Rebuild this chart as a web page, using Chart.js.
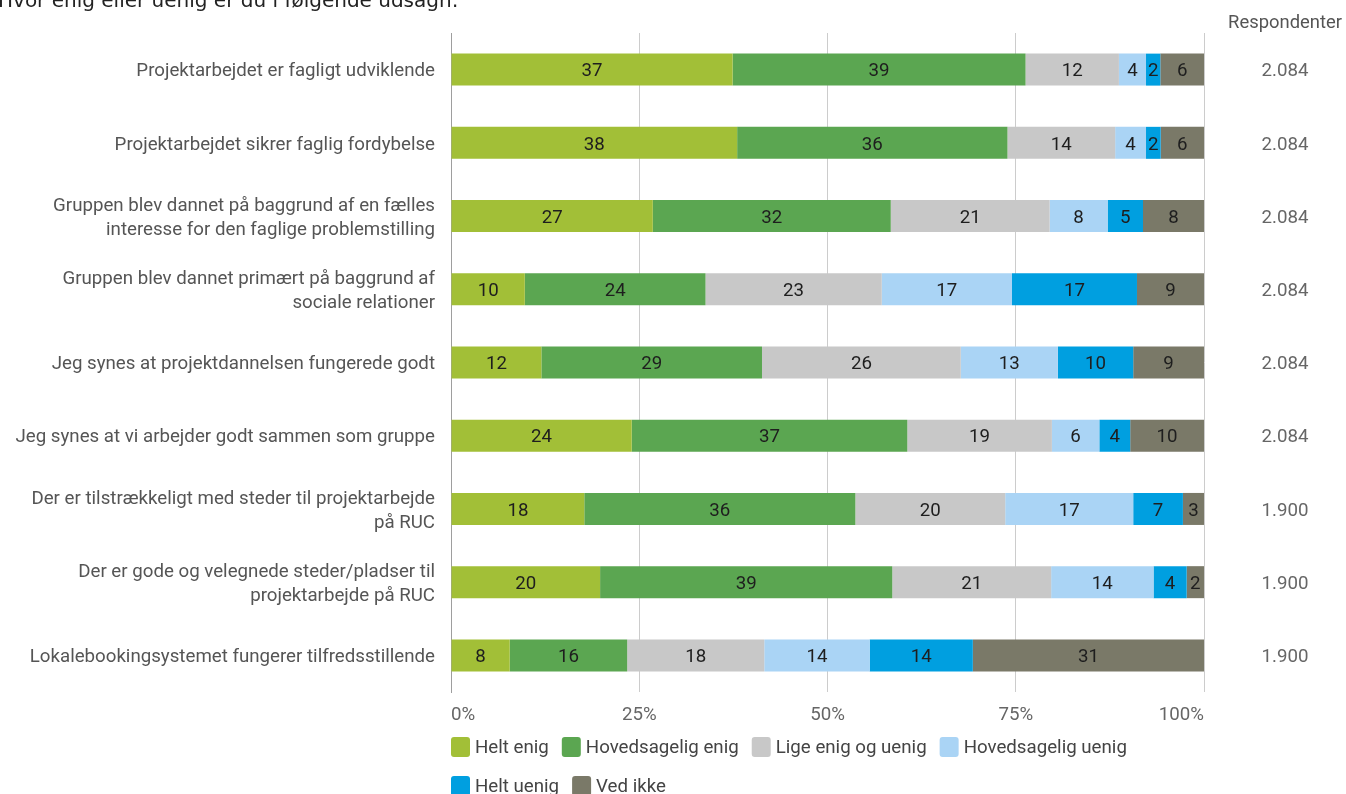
<!DOCTYPE html>
<html>
<head>
<meta charset="utf-8">
<script src="https://cdn.jsdelivr.net/npm/chart.js@4/dist/chart.umd.min.js"></script>
<style>
html,body{margin:0;padding:0;background:#fff;overflow:hidden;}
canvas{display:block;}
</style>
</head>
<body>
<canvas id="c" width="1346" height="794"></canvas>
<script>
const titleText = 'Hvor enig eller uenig er du i følgende udsagn:';
const respHeader = 'Respondenter';
const categories = [
  'Projektarbejdet er fagligt udviklende',
  'Projektarbejdet sikrer faglig fordybelse',
  ['Gruppen blev dannet på baggrund af en fælles', 'interesse for den faglige problemstilling'],
  ['Gruppen blev dannet primært på baggrund af', 'sociale relationer'],
  'Jeg synes at projektdannelsen fungerede godt',
  'Jeg synes at vi arbejder godt sammen som gruppe',
  ['Der er tilstrækkeligt med steder til projektarbejde', 'på RUC'],
  ['Der er gode og velegnede steder/pladser til', 'projektarbejde på RUC'],
  'Lokalebookingsystemet fungerer tilfredsstillende'
];
const seriesNames = ['Helt enig', 'Hovedsagelig enig', 'Lige enig og uenig', 'Hovedsagelig uenig', 'Helt uenig', 'Ved ikke'];
const heltEnig   = [37.4, 38.0, 26.8, 9.8, 12.0, 24.0, 17.7, 19.8, 7.8];
const hovedEnig  = [38.9, 35.9, 31.6, 24.0, 29.3, 36.6, 36.0, 38.8, 15.6];
const ligeEnig   = [12.4, 14.3, 21.1, 23.4, 26.4, 19.2, 19.9, 21.1, 18.2];
const hovedUenig = [3.6, 4.1, 7.7, 17.3, 12.9, 6.3, 17.0, 13.6, 14.0];
const heltUenig  = [1.9, 1.95, 4.7, 16.6, 10.0, 4.1, 6.6, 4.4, 13.7];
const vedIkke    = [5.8, 5.75, 8.1, 8.9, 9.4, 9.8, 2.8, 2.3, 30.7];
const respondents = ['2.084', '2.084', '2.084', '2.084', '2.084', '2.084', '1.900', '1.900', '1.900'];
const xTickValues = [0, 25, 50, 75, 100];

const colors = ['#a2bf37', '#5ba651', '#c8c8c8', '#aad4f5', '#009fe0', '#7a7968'];
const seriesValues = [heltEnig, hovedEnig, ligeEnig, hovedUenig, heltUenig, vedIkke];

const FONT = 'Roboto';
const FS = 18.7;

const extrasPlugin = {
  id: 'extras',
  afterDatasetsDraw(chart) {
    const ctx = chart.ctx;
    ctx.save();
    ctx.font = FS + 'px ' + FONT;
    ctx.fillStyle = '#1e1e1e';
    ctx.textAlign = 'center';
    ctx.textBaseline = 'middle';
    chart.data.datasets.forEach((ds, di) => {
      const meta = chart.getDatasetMeta(di);
      meta.data.forEach((bar, i) => {
        const v = ds.data[i];
        const cx = (bar.x + bar.base) / 2;
        ctx.fillText(String(Math.round(v)), cx, bar.y + 2);
      });
    });
    ctx.restore();
  },
  afterDraw(chart) {
    const ctx = chart.ctx;
    const area = chart.chartArea;
    const yScale = chart.scales.y;
    ctx.save();
    // Title (partially cut at top)
    ctx.font = '20px "DejaVu Sans"';
    ctx.fillStyle = '#222';
    ctx.textAlign = 'left';
    ctx.textBaseline = 'alphabetic';
    ctx.fillText(titleText, -2, 7);
    // Respondenter column
    const colX = 1285;
    ctx.textAlign = 'center';
    ctx.textBaseline = 'middle';
    ctx.font = '18.4px ' + FONT;
    ctx.fillStyle = '#555';
    ctx.fillText(respHeader, colX, 23);
    ctx.font = FS + 'px ' + FONT;
    ctx.fillStyle = '#666';
    respondents.forEach((r, i) => {
      ctx.fillText(r, colX, yScale.getPixelForValue(i) + 2);
    });
    // Legend
    ctx.font = FS + 'px ' + FONT;
    ctx.textAlign = 'left';
    let x = area.left, y = 747;
    const boxW = 19, boxH = 20, gap = 5, itemGap = 13, rowH = 39;
    chart.data.datasets.forEach((ds) => {
      const tw = ctx.measureText(ds.label).width;
      const w = boxW + gap + tw;
      if (x + w > area.right && x > area.left) { x = area.left; y += rowH; }
      ctx.fillStyle = ds.backgroundColor;
      ctx.beginPath();
      ctx.roundRect(x, y - boxH / 2, boxW, boxH, 3);
      ctx.fill();
      ctx.fillStyle = '#444';
      ctx.fillText(ds.label, x + boxW + gap, y + 1);
      x += w + itemGap;
    });
    ctx.restore();
  }
};

new Chart(document.getElementById('c'), {
  type: 'bar',
  data: {
    labels: categories,
    datasets: seriesNames.map((name, k) => ({
      label: name,
      data: seriesValues[k],
      backgroundColor: colors[k],
      borderWidth: 0,
      barPercentage: 0.437,
      categoryPercentage: 1
    }))
  },
  options: {
    indexAxis: 'y',
    responsive: false,
    animation: false,
    devicePixelRatio: 1,
    layout: { padding: { left: 0, right: 142, top: 33, bottom: 0 } },
    plugins: {
      legend: { display: false },
      title: { display: false },
      tooltip: { enabled: false }
    },
    scales: {
      x: {
        stacked: true,
        min: 0,
        max: 100,
        afterBuildTicks(scale) { scale.ticks = xTickValues.map(v => ({ value: v })); },
        afterFit(scale) { scale.height = 102; },
        grid: {
          drawTicks: false,
          color: (c) => (c.tick && c.tick.value === 0) ? '#9e9e9e' : '#cccccc',
          lineWidth: 1
        },
        border: { display: false },
        ticks: {
          align: 'inner',
          padding: 12,
          color: '#666',
          font: { family: FONT, size: FS },
          callback: (v) => v + '%'
        }
      },
      y: {
        stacked: true,
        afterFit(scale) { scale.width = 451; },
        grid: { display: false, drawTicks: false },
        border: { display: true, color: '#9e9e9e', width: 1 },
        ticks: {
          padding: 16,
          labelOffset: 2,
          color: '#555',
          font: { family: FONT, size: FS, lineHeight: '24px' }
        }
      }
    }
  },
  plugins: [extrasPlugin]
});
</script>
</body>
</html>
